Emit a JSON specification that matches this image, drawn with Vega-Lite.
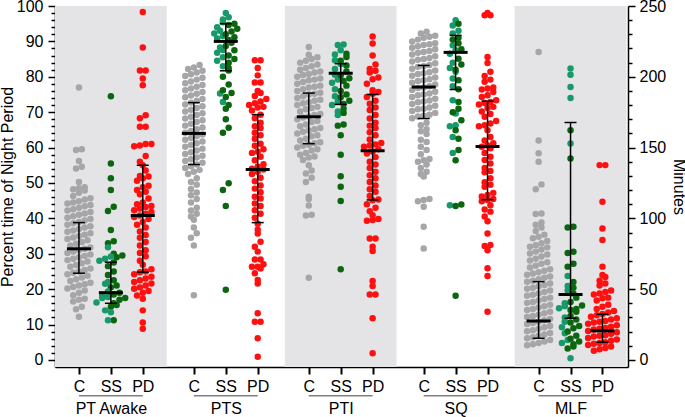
{
"$schema": "https://vega.github.io/schema/vega-lite/v6.json",
"width": 573, "height": 361,
"autosize": {"type": "none"},
"padding": {"left": 55, "top": 6, "right": 57, "bottom": 50},
"config": {"view": {"stroke": null}, "font": "Liberation Sans",
  "axis": {"grid": false, "domainColor": "#000", "domainWidth": 1.5, "tickColor": "#000", "tickWidth": 1.5, "labelColor": "#000", "labelFontSize": 16, "titleFontSize": 16, "titleFontWeight": "normal", "titleColor": "#000", "labelOverlap": false, "labelFlush": false}},
"datasets": {
"grp": [{"g":"PT Awake"},{"g":"PTS"},{"g":"PTI"},{"g":"SQ"},{"g":"MLF"}],
"st": [
{"g":"PT Awake","s":"C","q1":24.5,"med":31.4,"q3":38.8},
{"g":"PT Awake","s":"SS","q1":16.0,"med":19.0,"q3":27.6},
{"g":"PT Awake","s":"PD","q1":24.8,"med":40.8,"q3":55.0},
{"g":"PTS","s":"C","q1":55.2,"med":64.0,"q3":72.7},
{"g":"PTS","s":"SS","q1":81.7,"med":90.0,"q3":95.0},
{"g":"PTS","s":"PD","q1":38.8,"med":53.8,"q3":69.3},
{"g":"PTI","s":"C","q1":61.1,"med":68.7,"q3":75.4},
{"g":"PTI","s":"SS","q1":72.2,"med":81.0,"q3":83.7},
{"g":"PTI","s":"PD","q1":45.2,"med":59.1,"q3":75.0},
{"g":"SQ","s":"C","q1":68.2,"med":77.1,"q3":83.2},
{"g":"SQ","s":"SS","q1":76.4,"med":86.9,"q3":91.7},
{"g":"SQ","s":"PD","q1":45.3,"med":60.3,"q3":73.1},
{"g":"MLF","s":"C","q1":15.3,"med":27.5,"q3":55.3},
{"g":"MLF","s":"SS","q1":29.4,"med":46.3,"q3":167.7},
{"g":"MLF","s":"PD","q1":12.5,"med":20.5,"q3":32.2}
],
"pts": [
{"g":"PT Awake","s":"C","v":77},{"g":"PT Awake","s":"C","v":59.5},{"g":"PT Awake","s":"C","v":59.3},{"g":"PT Awake","s":"C","v":56.2},{"g":"PT Awake","s":"C","v":54.6},{"g":"PT Awake","s":"C","v":54.1},{"g":"PT Awake","s":"C","v":50.3},{"g":"PT Awake","s":"C","v":48.8},{"g":"PT Awake","s":"C","v":48.5},{"g":"PT Awake","s":"C","v":48.2},{"g":"PT Awake","s":"C","v":47.9},{"g":"PT Awake","s":"C","v":47.2},{"g":"PT Awake","s":"C","v":46.3},{"g":"PT Awake","s":"C","v":44.2},{"g":"PT Awake","s":"C","v":44.5},{"g":"PT Awake","s":"C","v":44.8},{"g":"PT Awake","s":"C","v":45.3},{"g":"PT Awake","s":"C","v":45.7},{"g":"PT Awake","s":"C","v":42.2},{"g":"PT Awake","s":"C","v":42.6},{"g":"PT Awake","s":"C","v":43},{"g":"PT Awake","s":"C","v":43.4},{"g":"PT Awake","s":"C","v":43.8},{"g":"PT Awake","s":"C","v":40.2},{"g":"PT Awake","s":"C","v":40.6},{"g":"PT Awake","s":"C","v":41},{"g":"PT Awake","s":"C","v":41.4},{"g":"PT Awake","s":"C","v":41.8},{"g":"PT Awake","s":"C","v":38.2},{"g":"PT Awake","s":"C","v":38.6},{"g":"PT Awake","s":"C","v":39},{"g":"PT Awake","s":"C","v":39.4},{"g":"PT Awake","s":"C","v":39.8},{"g":"PT Awake","s":"C","v":36.2},{"g":"PT Awake","s":"C","v":36.6},{"g":"PT Awake","s":"C","v":37},{"g":"PT Awake","s":"C","v":37.4},{"g":"PT Awake","s":"C","v":37.8},{"g":"PT Awake","s":"C","v":34.2},{"g":"PT Awake","s":"C","v":34.6},{"g":"PT Awake","s":"C","v":35},{"g":"PT Awake","s":"C","v":35.4},{"g":"PT Awake","s":"C","v":35.8},{"g":"PT Awake","s":"C","v":32.3},{"g":"PT Awake","s":"C","v":32.8},{"g":"PT Awake","s":"C","v":33.3},{"g":"PT Awake","s":"C","v":33.8},{"g":"PT Awake","s":"C","v":30.2},{"g":"PT Awake","s":"C","v":30.6},{"g":"PT Awake","s":"C","v":31},{"g":"PT Awake","s":"C","v":31.4},{"g":"PT Awake","s":"C","v":31.8},{"g":"PT Awake","s":"C","v":28.2},{"g":"PT Awake","s":"C","v":28.6},{"g":"PT Awake","s":"C","v":29},{"g":"PT Awake","s":"C","v":29.4},{"g":"PT Awake","s":"C","v":29.8},{"g":"PT Awake","s":"C","v":26.3},{"g":"PT Awake","s":"C","v":26.8},{"g":"PT Awake","s":"C","v":27.3},{"g":"PT Awake","s":"C","v":27.8},{"g":"PT Awake","s":"C","v":24.2},{"g":"PT Awake","s":"C","v":24.6},{"g":"PT Awake","s":"C","v":25},{"g":"PT Awake","s":"C","v":25.4},{"g":"PT Awake","s":"C","v":25.8},{"g":"PT Awake","s":"C","v":22.3},{"g":"PT Awake","s":"C","v":22.8},{"g":"PT Awake","s":"C","v":23.3},{"g":"PT Awake","s":"C","v":23.8},{"g":"PT Awake","s":"C","v":20.2},{"g":"PT Awake","s":"C","v":20.6},{"g":"PT Awake","s":"C","v":21},{"g":"PT Awake","s":"C","v":21.4},{"g":"PT Awake","s":"C","v":21.8},{"g":"PT Awake","s":"C","v":18.3},{"g":"PT Awake","s":"C","v":19},{"g":"PT Awake","s":"C","v":19.6},{"g":"PT Awake","s":"C","v":16.5},{"g":"PT Awake","s":"C","v":17},{"g":"PT Awake","s":"C","v":17.3},{"g":"PT Awake","s":"C","v":14.3},{"g":"PT Awake","s":"C","v":15},{"g":"PT Awake","s":"C","v":12.2},
{"g":"PT Awake","s":"SS","k":"B","v":74.5},{"g":"PT Awake","s":"SS","k":"B","v":55.5},{"g":"PT Awake","s":"SS","k":"B","v":51.3},{"g":"PT Awake","s":"SS","k":"B","v":48},{"g":"PT Awake","s":"SS","k":"B","v":43.3},{"g":"PT Awake","s":"SS","k":"B","v":42.1},{"g":"PT Awake","s":"SS","k":"B","v":36.7},{"g":"PT Awake","s":"SS","k":"B","v":33.5},{"g":"PT Awake","s":"SS","k":"B","v":33},{"g":"PT Awake","s":"SS","k":"B","v":30},{"g":"PT Awake","s":"SS","k":"B","v":29.5},{"g":"PT Awake","s":"SS","k":"B","v":29},{"g":"PT Awake","s":"SS","k":"B","v":27.5},{"g":"PT Awake","s":"SS","k":"B","v":26.5},{"g":"PT Awake","s":"SS","k":"B","v":25},{"g":"PT Awake","s":"SS","k":"B","v":24},{"g":"PT Awake","s":"SS","k":"B","v":22.5},{"g":"PT Awake","s":"SS","k":"B","v":21},{"g":"PT Awake","s":"SS","k":"B","v":20.5},{"g":"PT Awake","s":"SS","k":"B","v":19},{"g":"PT Awake","s":"SS","k":"B","v":18.5},{"g":"PT Awake","s":"SS","k":"B","v":17.5},{"g":"PT Awake","s":"SS","k":"B","v":17},{"g":"PT Awake","s":"SS","k":"B","v":16},{"g":"PT Awake","s":"SS","k":"B","v":15.5},{"g":"PT Awake","s":"SS","k":"B","v":15},{"g":"PT Awake","s":"SS","k":"B","v":11.2},
{"g":"PT Awake","s":"SS","k":"A","v":31.8},{"g":"PT Awake","s":"SS","k":"A","v":29.2},{"g":"PT Awake","s":"SS","k":"A","v":28.6},{"g":"PT Awake","s":"SS","k":"A","v":28},{"g":"PT Awake","s":"SS","k":"A","v":22},{"g":"PT Awake","s":"SS","k":"A","v":21.5},{"g":"PT Awake","s":"SS","k":"A","v":19.3},{"g":"PT Awake","s":"SS","k":"A","v":18.2},{"g":"PT Awake","s":"SS","k":"A","v":17.8},{"g":"PT Awake","s":"SS","k":"A","v":17.5},{"g":"PT Awake","s":"SS","k":"A","v":16.2},{"g":"PT Awake","s":"SS","k":"A","v":14},{"g":"PT Awake","s":"SS","k":"A","v":13.5},{"g":"PT Awake","s":"SS","k":"A","v":11.2},
{"g":"PT Awake","s":"PD","v":98.3},{"g":"PT Awake","s":"PD","v":88.3},{"g":"PT Awake","s":"PD","v":81.8},{"g":"PT Awake","s":"PD","v":81.8},{"g":"PT Awake","s":"PD","v":79.5},{"g":"PT Awake","s":"PD","v":77.6},{"g":"PT Awake","s":"PD","v":69.1},{"g":"PT Awake","s":"PD","v":68.3},{"g":"PT Awake","s":"PD","v":65.9},{"g":"PT Awake","s":"PD","v":65.9},{"g":"PT Awake","s":"PD","v":61},{"g":"PT Awake","s":"PD","v":61},{"g":"PT Awake","s":"PD","v":60.6},{"g":"PT Awake","s":"PD","v":60.4},{"g":"PT Awake","s":"PD","v":57.6},{"g":"PT Awake","s":"PD","v":56},{"g":"PT Awake","s":"PD","v":55},{"g":"PT Awake","s":"PD","v":53.5},{"g":"PT Awake","s":"PD","v":52},{"g":"PT Awake","s":"PD","v":51.8},{"g":"PT Awake","s":"PD","v":51.3},{"g":"PT Awake","s":"PD","v":50.6},{"g":"PT Awake","s":"PD","v":49.2},{"g":"PT Awake","s":"PD","v":48.8},{"g":"PT Awake","s":"PD","v":48},{"g":"PT Awake","s":"PD","v":47.5},{"g":"PT Awake","s":"PD","v":46.8},{"g":"PT Awake","s":"PD","v":45.6},{"g":"PT Awake","s":"PD","v":44.5},{"g":"PT Awake","s":"PD","v":44},{"g":"PT Awake","s":"PD","v":43.5},{"g":"PT Awake","s":"PD","v":43.2},{"g":"PT Awake","s":"PD","v":42.8},{"g":"PT Awake","s":"PD","v":42.3},{"g":"PT Awake","s":"PD","v":41.8},{"g":"PT Awake","s":"PD","v":41.3},{"g":"PT Awake","s":"PD","v":40.8},{"g":"PT Awake","s":"PD","v":40.4},{"g":"PT Awake","s":"PD","v":39.8},{"g":"PT Awake","s":"PD","v":39},{"g":"PT Awake","s":"PD","v":38.2},{"g":"PT Awake","s":"PD","v":37.4},{"g":"PT Awake","s":"PD","v":36.3},{"g":"PT Awake","s":"PD","v":35.3},{"g":"PT Awake","s":"PD","v":34.5},{"g":"PT Awake","s":"PD","v":33.3},{"g":"PT Awake","s":"PD","v":32.3},{"g":"PT Awake","s":"PD","v":31},{"g":"PT Awake","s":"PD","v":30.2},{"g":"PT Awake","s":"PD","v":29.3},{"g":"PT Awake","s":"PD","v":28},{"g":"PT Awake","s":"PD","v":26.9},{"g":"PT Awake","s":"PD","v":25.6},{"g":"PT Awake","s":"PD","v":25},{"g":"PT Awake","s":"PD","v":24.8},{"g":"PT Awake","s":"PD","v":24.2},{"g":"PT Awake","s":"PD","v":23.5},{"g":"PT Awake","s":"PD","v":23},{"g":"PT Awake","s":"PD","v":22.5},{"g":"PT Awake","s":"PD","v":22},{"g":"PT Awake","s":"PD","v":21.6},{"g":"PT Awake","s":"PD","v":21},{"g":"PT Awake","s":"PD","v":20.5},{"g":"PT Awake","s":"PD","v":20.1},{"g":"PT Awake","s":"PD","v":19.5},{"g":"PT Awake","s":"PD","v":19},{"g":"PT Awake","s":"PD","v":18.2},{"g":"PT Awake","s":"PD","v":17.3},{"g":"PT Awake","s":"PD","v":14},{"g":"PT Awake","s":"PD","v":10.6},{"g":"PT Awake","s":"PD","v":8.8},
{"g":"PTS","s":"C","v":83.3},{"g":"PTS","s":"C","v":82.6},{"g":"PTS","s":"C","v":82.2},{"g":"PTS","s":"C","v":81.7},{"g":"PTS","s":"C","v":81.2},{"g":"PTS","s":"C","v":80.7},{"g":"PTS","s":"C","v":80.2},{"g":"PTS","s":"C","v":79.7},{"g":"PTS","s":"C","v":79.2},{"g":"PTS","s":"C","v":78.7},{"g":"PTS","s":"C","v":78.2},{"g":"PTS","s":"C","v":77.7},{"g":"PTS","s":"C","v":77.2},{"g":"PTS","s":"C","v":76.7},{"g":"PTS","s":"C","v":76.2},{"g":"PTS","s":"C","v":75.7},{"g":"PTS","s":"C","v":75.2},{"g":"PTS","s":"C","v":74.7},{"g":"PTS","s":"C","v":74.2},{"g":"PTS","s":"C","v":73.7},{"g":"PTS","s":"C","v":73.2},{"g":"PTS","s":"C","v":72.7},{"g":"PTS","s":"C","v":72.2},{"g":"PTS","s":"C","v":71.7},{"g":"PTS","s":"C","v":71.2},{"g":"PTS","s":"C","v":70.7},{"g":"PTS","s":"C","v":70.2},{"g":"PTS","s":"C","v":69.7},{"g":"PTS","s":"C","v":69.2},{"g":"PTS","s":"C","v":68.7},{"g":"PTS","s":"C","v":68.2},{"g":"PTS","s":"C","v":67.7},{"g":"PTS","s":"C","v":67.2},{"g":"PTS","s":"C","v":66.7},{"g":"PTS","s":"C","v":66.2},{"g":"PTS","s":"C","v":65.7},{"g":"PTS","s":"C","v":65.2},{"g":"PTS","s":"C","v":64.7},{"g":"PTS","s":"C","v":64.2},{"g":"PTS","s":"C","v":63.7},{"g":"PTS","s":"C","v":63.2},{"g":"PTS","s":"C","v":62.7},{"g":"PTS","s":"C","v":62.2},{"g":"PTS","s":"C","v":61.7},{"g":"PTS","s":"C","v":61.2},{"g":"PTS","s":"C","v":60.7},{"g":"PTS","s":"C","v":60.2},{"g":"PTS","s":"C","v":59.7},{"g":"PTS","s":"C","v":59.2},{"g":"PTS","s":"C","v":58.7},{"g":"PTS","s":"C","v":58.2},{"g":"PTS","s":"C","v":57.7},{"g":"PTS","s":"C","v":57.2},{"g":"PTS","s":"C","v":56.7},{"g":"PTS","s":"C","v":56.2},{"g":"PTS","s":"C","v":55.7},{"g":"PTS","s":"C","v":55.2},{"g":"PTS","s":"C","v":54.7},{"g":"PTS","s":"C","v":54.2},{"g":"PTS","s":"C","v":53.7},{"g":"PTS","s":"C","v":53.2},{"g":"PTS","s":"C","v":52.5},{"g":"PTS","s":"C","v":51.3},{"g":"PTS","s":"C","v":50.3},{"g":"PTS","s":"C","v":49.5},{"g":"PTS","s":"C","v":48.3},{"g":"PTS","s":"C","v":47.3},{"g":"PTS","s":"C","v":46.5},{"g":"PTS","s":"C","v":45.5},{"g":"PTS","s":"C","v":44.5},{"g":"PTS","s":"C","v":43},{"g":"PTS","s":"C","v":42.2},{"g":"PTS","s":"C","v":41.3},{"g":"PTS","s":"C","v":40.5},{"g":"PTS","s":"C","v":39.6},{"g":"PTS","s":"C","v":37.4},{"g":"PTS","s":"C","v":35.8},{"g":"PTS","s":"C","v":34.5},{"g":"PTS","s":"C","v":32.3},{"g":"PTS","s":"C","v":18.3},
{"g":"PTS","s":"SS","k":"A","v":98},{"g":"PTS","s":"SS","k":"A","v":96.8},{"g":"PTS","s":"SS","k":"A","v":96.2},{"g":"PTS","s":"SS","k":"A","v":95.4},{"g":"PTS","s":"SS","k":"A","v":94},{"g":"PTS","s":"SS","k":"A","v":93},{"g":"PTS","s":"SS","k":"A","v":92.2},{"g":"PTS","s":"SS","k":"A","v":91.5},{"g":"PTS","s":"SS","k":"A","v":90.8},{"g":"PTS","s":"SS","k":"A","v":88.3},{"g":"PTS","s":"SS","k":"A","v":87.6},{"g":"PTS","s":"SS","k":"A","v":86.8},{"g":"PTS","s":"SS","k":"A","v":85.5},{"g":"PTS","s":"SS","k":"A","v":84.5},{"g":"PTS","s":"SS","k":"A","v":83},{"g":"PTS","s":"SS","k":"A","v":75.3},{"g":"PTS","s":"SS","k":"A","v":72.9},
{"g":"PTS","s":"SS","k":"B","v":95},{"g":"PTS","s":"SS","k":"B","v":94.6},{"g":"PTS","s":"SS","k":"B","v":93.6},{"g":"PTS","s":"SS","k":"B","v":92.8},{"g":"PTS","s":"SS","k":"B","v":92},{"g":"PTS","s":"SS","k":"B","v":91.2},{"g":"PTS","s":"SS","k":"B","v":90.4},{"g":"PTS","s":"SS","k":"B","v":89.6},{"g":"PTS","s":"SS","k":"B","v":88.7},{"g":"PTS","s":"SS","k":"B","v":87.5},{"g":"PTS","s":"SS","k":"B","v":86},{"g":"PTS","s":"SS","k":"B","v":85},{"g":"PTS","s":"SS","k":"B","v":84},{"g":"PTS","s":"SS","k":"B","v":82.5},{"g":"PTS","s":"SS","k":"B","v":81.8},{"g":"PTS","s":"SS","k":"B","v":80},{"g":"PTS","s":"SS","k":"B","v":77.8},{"g":"PTS","s":"SS","k":"B","v":76.2},{"g":"PTS","s":"SS","k":"B","v":75.4},{"g":"PTS","s":"SS","k":"B","v":74.3},{"g":"PTS","s":"SS","k":"B","v":72},{"g":"PTS","s":"SS","k":"B","v":71},{"g":"PTS","s":"SS","k":"B","v":68},{"g":"PTS","s":"SS","k":"B","v":65.6},{"g":"PTS","s":"SS","k":"B","v":64.2},{"g":"PTS","s":"SS","k":"B","v":49.9},{"g":"PTS","s":"SS","k":"B","v":48},{"g":"PTS","s":"SS","k":"B","v":43.5},{"g":"PTS","s":"SS","k":"B","v":19.8},
{"g":"PTS","s":"PD","v":84.7},{"g":"PTS","s":"PD","v":84.7},{"g":"PTS","s":"PD","v":82.5},{"g":"PTS","s":"PD","v":80.4},{"g":"PTS","s":"PD","v":78.4},{"g":"PTS","s":"PD","v":78.4},{"g":"PTS","s":"PD","v":76},{"g":"PTS","s":"PD","v":75.4},{"g":"PTS","s":"PD","v":74.6},{"g":"PTS","s":"PD","v":73.7},{"g":"PTS","s":"PD","v":73},{"g":"PTS","s":"PD","v":72.5},{"g":"PTS","s":"PD","v":72},{"g":"PTS","s":"PD","v":71.5},{"g":"PTS","s":"PD","v":71.3},{"g":"PTS","s":"PD","v":70.5},{"g":"PTS","s":"PD","v":69.3},{"g":"PTS","s":"PD","v":68.3},{"g":"PTS","s":"PD","v":67},{"g":"PTS","s":"PD","v":66},{"g":"PTS","s":"PD","v":65.5},{"g":"PTS","s":"PD","v":64.2},{"g":"PTS","s":"PD","v":63.5},{"g":"PTS","s":"PD","v":62.5},{"g":"PTS","s":"PD","v":61.1},{"g":"PTS","s":"PD","v":60.5},{"g":"PTS","s":"PD","v":59.5},{"g":"PTS","s":"PD","v":58.8},{"g":"PTS","s":"PD","v":58.5},{"g":"PTS","s":"PD","v":57.4},{"g":"PTS","s":"PD","v":56.4},{"g":"PTS","s":"PD","v":55.3},{"g":"PTS","s":"PD","v":54.6},{"g":"PTS","s":"PD","v":54},{"g":"PTS","s":"PD","v":53.8},{"g":"PTS","s":"PD","v":53.2},{"g":"PTS","s":"PD","v":52.5},{"g":"PTS","s":"PD","v":51.5},{"g":"PTS","s":"PD","v":50.5},{"g":"PTS","s":"PD","v":49.3},{"g":"PTS","s":"PD","v":48.4},{"g":"PTS","s":"PD","v":47.4},{"g":"PTS","s":"PD","v":46.1},{"g":"PTS","s":"PD","v":45.6},{"g":"PTS","s":"PD","v":44.2},{"g":"PTS","s":"PD","v":43.5},{"g":"PTS","s":"PD","v":42.3},{"g":"PTS","s":"PD","v":41.3},{"g":"PTS","s":"PD","v":40.2},{"g":"PTS","s":"PD","v":38.5},{"g":"PTS","s":"PD","v":36.8},{"g":"PTS","s":"PD","v":35.7},{"g":"PTS","s":"PD","v":33.4},{"g":"PTS","s":"PD","v":32},{"g":"PTS","s":"PD","v":30.6},{"g":"PTS","s":"PD","v":28.4},{"g":"PTS","s":"PD","v":28.4},{"g":"PTS","s":"PD","v":27},{"g":"PTS","s":"PD","v":26.3},{"g":"PTS","s":"PD","v":26.3},{"g":"PTS","s":"PD","v":25.8},{"g":"PTS","s":"PD","v":24.5},{"g":"PTS","s":"PD","v":22.6},{"g":"PTS","s":"PD","v":21.6},{"g":"PTS","s":"PD","v":13.2},{"g":"PTS","s":"PD","v":10.8},{"g":"PTS","s":"PD","v":10.8},{"g":"PTS","s":"PD","v":6.1},{"g":"PTS","s":"PD","v":0.9},
{"g":"PTI","s":"C","v":88.4},{"g":"PTI","s":"C","v":86.2},{"g":"PTI","s":"C","v":85.5},{"g":"PTI","s":"C","v":85},{"g":"PTI","s":"C","v":84.5},{"g":"PTI","s":"C","v":84},{"g":"PTI","s":"C","v":83.5},{"g":"PTI","s":"C","v":83},{"g":"PTI","s":"C","v":82.5},{"g":"PTI","s":"C","v":82},{"g":"PTI","s":"C","v":81.5},{"g":"PTI","s":"C","v":81.2},{"g":"PTI","s":"C","v":80.8},{"g":"PTI","s":"C","v":80.5},{"g":"PTI","s":"C","v":80},{"g":"PTI","s":"C","v":79.5},{"g":"PTI","s":"C","v":79.2},{"g":"PTI","s":"C","v":79},{"g":"PTI","s":"C","v":78.5},{"g":"PTI","s":"C","v":78},{"g":"PTI","s":"C","v":77.5},{"g":"PTI","s":"C","v":77.2},{"g":"PTI","s":"C","v":77},{"g":"PTI","s":"C","v":76.5},{"g":"PTI","s":"C","v":76},{"g":"PTI","s":"C","v":75.5},{"g":"PTI","s":"C","v":75.2},{"g":"PTI","s":"C","v":75},{"g":"PTI","s":"C","v":74.5},{"g":"PTI","s":"C","v":74},{"g":"PTI","s":"C","v":73.5},{"g":"PTI","s":"C","v":73.2},{"g":"PTI","s":"C","v":72.8},{"g":"PTI","s":"C","v":72.5},{"g":"PTI","s":"C","v":72},{"g":"PTI","s":"C","v":71.5},{"g":"PTI","s":"C","v":71.2},{"g":"PTI","s":"C","v":70.8},{"g":"PTI","s":"C","v":70.2},{"g":"PTI","s":"C","v":69.5},{"g":"PTI","s":"C","v":69.2},{"g":"PTI","s":"C","v":68.8},{"g":"PTI","s":"C","v":68.5},{"g":"PTI","s":"C","v":68},{"g":"PTI","s":"C","v":67.5},{"g":"PTI","s":"C","v":67.2},{"g":"PTI","s":"C","v":66.5},{"g":"PTI","s":"C","v":66},{"g":"PTI","s":"C","v":65.5},{"g":"PTI","s":"C","v":65.2},{"g":"PTI","s":"C","v":64.8},{"g":"PTI","s":"C","v":64.5},{"g":"PTI","s":"C","v":64},{"g":"PTI","s":"C","v":63.5},{"g":"PTI","s":"C","v":63.2},{"g":"PTI","s":"C","v":62.5},{"g":"PTI","s":"C","v":62},{"g":"PTI","s":"C","v":61.5},{"g":"PTI","s":"C","v":61.2},{"g":"PTI","s":"C","v":60.8},{"g":"PTI","s":"C","v":60.5},{"g":"PTI","s":"C","v":60},{"g":"PTI","s":"C","v":59.5},{"g":"PTI","s":"C","v":59.2},{"g":"PTI","s":"C","v":58.5},{"g":"PTI","s":"C","v":58},{"g":"PTI","s":"C","v":57.5},{"g":"PTI","s":"C","v":57.2},{"g":"PTI","s":"C","v":56.5},{"g":"PTI","s":"C","v":55},{"g":"PTI","s":"C","v":53.5},{"g":"PTI","s":"C","v":52.7},{"g":"PTI","s":"C","v":51.5},{"g":"PTI","s":"C","v":50.3},{"g":"PTI","s":"C","v":46.1},{"g":"PTI","s":"C","v":45.5},{"g":"PTI","s":"C","v":43.6},{"g":"PTI","s":"C","v":41},{"g":"PTI","s":"C","v":40.8},{"g":"PTI","s":"C","v":23.2},
{"g":"PTI","s":"SS","k":"A","v":89.1},{"g":"PTI","s":"SS","k":"A","v":89},{"g":"PTI","s":"SS","k":"A","v":87.5},{"g":"PTI","s":"SS","k":"A","v":86.3},{"g":"PTI","s":"SS","k":"A","v":84.7},{"g":"PTI","s":"SS","k":"A","v":83.6},{"g":"PTI","s":"SS","k":"A","v":82.2},{"g":"PTI","s":"SS","k":"A","v":80.6},{"g":"PTI","s":"SS","k":"A","v":79.2},{"g":"PTI","s":"SS","k":"A","v":78.3},{"g":"PTI","s":"SS","k":"A","v":76.5},{"g":"PTI","s":"SS","k":"A","v":74.5},{"g":"PTI","s":"SS","k":"A","v":73},{"g":"PTI","s":"SS","k":"A","v":72},{"g":"PTI","s":"SS","k":"A","v":70.2},{"g":"PTI","s":"SS","k":"A","v":69.2},
{"g":"PTI","s":"SS","k":"B","v":86.5},{"g":"PTI","s":"SS","k":"B","v":85.6},{"g":"PTI","s":"SS","k":"B","v":84.5},{"g":"PTI","s":"SS","k":"B","v":83.2},{"g":"PTI","s":"SS","k":"B","v":81.5},{"g":"PTI","s":"SS","k":"B","v":80.4},{"g":"PTI","s":"SS","k":"B","v":79.6},{"g":"PTI","s":"SS","k":"B","v":78.8},{"g":"PTI","s":"SS","k":"B","v":77.5},{"g":"PTI","s":"SS","k":"B","v":76},{"g":"PTI","s":"SS","k":"B","v":75},{"g":"PTI","s":"SS","k":"B","v":74.2},{"g":"PTI","s":"SS","k":"B","v":73.2},{"g":"PTI","s":"SS","k":"B","v":72.3},{"g":"PTI","s":"SS","k":"B","v":71},{"g":"PTI","s":"SS","k":"B","v":69.8},{"g":"PTI","s":"SS","k":"B","v":66.5},{"g":"PTI","s":"SS","k":"B","v":66.2},{"g":"PTI","s":"SS","k":"B","v":63.5},{"g":"PTI","s":"SS","k":"B","v":58},{"g":"PTI","s":"SS","k":"B","v":51.9},{"g":"PTI","s":"SS","k":"B","v":48.9},{"g":"PTI","s":"SS","k":"B","v":44.9},{"g":"PTI","s":"SS","k":"B","v":25.6},
{"g":"PTI","s":"PD","v":91.4},{"g":"PTI","s":"PD","v":89.4},{"g":"PTI","s":"PD","v":86},{"g":"PTI","s":"PD","v":83.5},{"g":"PTI","s":"PD","v":82.2},{"g":"PTI","s":"PD","v":81.7},{"g":"PTI","s":"PD","v":81.2},{"g":"PTI","s":"PD","v":79.8},{"g":"PTI","s":"PD","v":79.3},{"g":"PTI","s":"PD","v":78},{"g":"PTI","s":"PD","v":76.2},{"g":"PTI","s":"PD","v":75.7},{"g":"PTI","s":"PD","v":75.2},{"g":"PTI","s":"PD","v":74.3},{"g":"PTI","s":"PD","v":73.2},{"g":"PTI","s":"PD","v":72.4},{"g":"PTI","s":"PD","v":71.3},{"g":"PTI","s":"PD","v":70.6},{"g":"PTI","s":"PD","v":69.2},{"g":"PTI","s":"PD","v":68.2},{"g":"PTI","s":"PD","v":67},{"g":"PTI","s":"PD","v":66.2},{"g":"PTI","s":"PD","v":65.5},{"g":"PTI","s":"PD","v":64.3},{"g":"PTI","s":"PD","v":63.5},{"g":"PTI","s":"PD","v":62.3},{"g":"PTI","s":"PD","v":61.3},{"g":"PTI","s":"PD","v":60.9},{"g":"PTI","s":"PD","v":60.6},{"g":"PTI","s":"PD","v":60.2},{"g":"PTI","s":"PD","v":59.5},{"g":"PTI","s":"PD","v":58.9},{"g":"PTI","s":"PD","v":58.3},{"g":"PTI","s":"PD","v":57.3},{"g":"PTI","s":"PD","v":56},{"g":"PTI","s":"PD","v":55.2},{"g":"PTI","s":"PD","v":54.2},{"g":"PTI","s":"PD","v":53.2},{"g":"PTI","s":"PD","v":52.2},{"g":"PTI","s":"PD","v":51.3},{"g":"PTI","s":"PD","v":50.3},{"g":"PTI","s":"PD","v":49.3},{"g":"PTI","s":"PD","v":48.2},{"g":"PTI","s":"PD","v":47.5},{"g":"PTI","s":"PD","v":46.3},{"g":"PTI","s":"PD","v":45.3},{"g":"PTI","s":"PD","v":45.1},{"g":"PTI","s":"PD","v":44},{"g":"PTI","s":"PD","v":43},{"g":"PTI","s":"PD","v":42},{"g":"PTI","s":"PD","v":40.9},{"g":"PTI","s":"PD","v":39.8},{"g":"PTI","s":"PD","v":39.5},{"g":"PTI","s":"PD","v":39.3},{"g":"PTI","s":"PD","v":34.3},{"g":"PTI","s":"PD","v":34.3},{"g":"PTI","s":"PD","v":32},{"g":"PTI","s":"PD","v":30.8},{"g":"PTI","s":"PD","v":22.3},{"g":"PTI","s":"PD","v":20.9},{"g":"PTI","s":"PD","v":18.5},{"g":"PTI","s":"PD","v":18.5},{"g":"PTI","s":"PD","v":11.8},{"g":"PTI","s":"PD","v":1.9},
{"g":"SQ","s":"C","v":92.7},{"g":"SQ","s":"C","v":92.2},{"g":"SQ","s":"C","v":91.6},{"g":"SQ","s":"C","v":91.3},{"g":"SQ","s":"C","v":91},{"g":"SQ","s":"C","v":90.5},{"g":"SQ","s":"C","v":90},{"g":"SQ","s":"C","v":89.5},{"g":"SQ","s":"C","v":89.2},{"g":"SQ","s":"C","v":89},{"g":"SQ","s":"C","v":88.6},{"g":"SQ","s":"C","v":88.2},{"g":"SQ","s":"C","v":87.8},{"g":"SQ","s":"C","v":87.3},{"g":"SQ","s":"C","v":87},{"g":"SQ","s":"C","v":86.8},{"g":"SQ","s":"C","v":86.3},{"g":"SQ","s":"C","v":85.8},{"g":"SQ","s":"C","v":85.3},{"g":"SQ","s":"C","v":85},{"g":"SQ","s":"C","v":84.8},{"g":"SQ","s":"C","v":84.3},{"g":"SQ","s":"C","v":83.8},{"g":"SQ","s":"C","v":83.3},{"g":"SQ","s":"C","v":83},{"g":"SQ","s":"C","v":82.8},{"g":"SQ","s":"C","v":82.3},{"g":"SQ","s":"C","v":81.8},{"g":"SQ","s":"C","v":81.3},{"g":"SQ","s":"C","v":81},{"g":"SQ","s":"C","v":80.8},{"g":"SQ","s":"C","v":80.3},{"g":"SQ","s":"C","v":79.8},{"g":"SQ","s":"C","v":79.3},{"g":"SQ","s":"C","v":79},{"g":"SQ","s":"C","v":78.8},{"g":"SQ","s":"C","v":78.3},{"g":"SQ","s":"C","v":77.8},{"g":"SQ","s":"C","v":77.3},{"g":"SQ","s":"C","v":77},{"g":"SQ","s":"C","v":76.8},{"g":"SQ","s":"C","v":76.3},{"g":"SQ","s":"C","v":75.8},{"g":"SQ","s":"C","v":75.3},{"g":"SQ","s":"C","v":75},{"g":"SQ","s":"C","v":74.8},{"g":"SQ","s":"C","v":74.3},{"g":"SQ","s":"C","v":73.8},{"g":"SQ","s":"C","v":73.3},{"g":"SQ","s":"C","v":73},{"g":"SQ","s":"C","v":72.8},{"g":"SQ","s":"C","v":72.3},{"g":"SQ","s":"C","v":71.8},{"g":"SQ","s":"C","v":71.3},{"g":"SQ","s":"C","v":71},{"g":"SQ","s":"C","v":70.8},{"g":"SQ","s":"C","v":70.3},{"g":"SQ","s":"C","v":69.8},{"g":"SQ","s":"C","v":69.3},{"g":"SQ","s":"C","v":69},{"g":"SQ","s":"C","v":68.8},{"g":"SQ","s":"C","v":68.3},{"g":"SQ","s":"C","v":67},{"g":"SQ","s":"C","v":66.3},{"g":"SQ","s":"C","v":65.2},{"g":"SQ","s":"C","v":64.6},{"g":"SQ","s":"C","v":63.8},{"g":"SQ","s":"C","v":62.2},{"g":"SQ","s":"C","v":61.6},{"g":"SQ","s":"C","v":60.2},{"g":"SQ","s":"C","v":59.3},{"g":"SQ","s":"C","v":58.1},{"g":"SQ","s":"C","v":56.8},{"g":"SQ","s":"C","v":56.4},{"g":"SQ","s":"C","v":56},{"g":"SQ","s":"C","v":55.2},{"g":"SQ","s":"C","v":54.2},{"g":"SQ","s":"C","v":53.2},{"g":"SQ","s":"C","v":52.5},{"g":"SQ","s":"C","v":51.8},{"g":"SQ","s":"C","v":45.5},{"g":"SQ","s":"C","v":45.2},{"g":"SQ","s":"C","v":44.8},{"g":"SQ","s":"C","v":43.3},{"g":"SQ","s":"C","v":37.6},{"g":"SQ","s":"C","v":31.5},
{"g":"SQ","s":"SS","k":"A","v":96},{"g":"SQ","s":"SS","k":"A","v":94.5},{"g":"SQ","s":"SS","k":"A","v":93},{"g":"SQ","s":"SS","k":"A","v":92.2},{"g":"SQ","s":"SS","k":"A","v":88.9},{"g":"SQ","s":"SS","k":"A","v":87.5},{"g":"SQ","s":"SS","k":"A","v":86.5},{"g":"SQ","s":"SS","k":"A","v":84},{"g":"SQ","s":"SS","k":"A","v":82.5},{"g":"SQ","s":"SS","k":"A","v":81.4},{"g":"SQ","s":"SS","k":"A","v":79.5},{"g":"SQ","s":"SS","k":"A","v":77.3},{"g":"SQ","s":"SS","k":"A","v":73.4},{"g":"SQ","s":"SS","k":"A","v":69.6},{"g":"SQ","s":"SS","k":"A","v":66.3},{"g":"SQ","s":"SS","k":"A","v":66},{"g":"SQ","s":"SS","k":"A","v":63},{"g":"SQ","s":"SS","k":"A","v":58.5},{"g":"SQ","s":"SS","k":"A","v":43.7},
{"g":"SQ","s":"SS","k":"B","v":95},{"g":"SQ","s":"SS","k":"B","v":91},{"g":"SQ","s":"SS","k":"B","v":90.5},{"g":"SQ","s":"SS","k":"B","v":89.5},{"g":"SQ","s":"SS","k":"B","v":87.8},{"g":"SQ","s":"SS","k":"B","v":85.1},{"g":"SQ","s":"SS","k":"B","v":83.5},{"g":"SQ","s":"SS","k":"B","v":82},{"g":"SQ","s":"SS","k":"B","v":79},{"g":"SQ","s":"SS","k":"B","v":76.5},{"g":"SQ","s":"SS","k":"B","v":72.9},{"g":"SQ","s":"SS","k":"B","v":71},{"g":"SQ","s":"SS","k":"B","v":70},{"g":"SQ","s":"SS","k":"B","v":67.7},{"g":"SQ","s":"SS","k":"B","v":64.9},{"g":"SQ","s":"SS","k":"B","v":62.5},{"g":"SQ","s":"SS","k":"B","v":59.3},{"g":"SQ","s":"SS","k":"B","v":56.4},{"g":"SQ","s":"SS","k":"B","v":43.9},{"g":"SQ","s":"SS","k":"B","v":43.5},{"g":"SQ","s":"SS","k":"B","v":18.1},
{"g":"SQ","s":"PD","v":98},{"g":"SQ","s":"PD","v":97.4},{"g":"SQ","s":"PD","v":97.4},{"g":"SQ","s":"PD","v":85.6},{"g":"SQ","s":"PD","v":83.9},{"g":"SQ","s":"PD","v":81.4},{"g":"SQ","s":"PD","v":80.2},{"g":"SQ","s":"PD","v":79.2},{"g":"SQ","s":"PD","v":78.6},{"g":"SQ","s":"PD","v":77},{"g":"SQ","s":"PD","v":76.7},{"g":"SQ","s":"PD","v":76.4},{"g":"SQ","s":"PD","v":75.7},{"g":"SQ","s":"PD","v":74.8},{"g":"SQ","s":"PD","v":74.3},{"g":"SQ","s":"PD","v":73.4},{"g":"SQ","s":"PD","v":72.9},{"g":"SQ","s":"PD","v":72.6},{"g":"SQ","s":"PD","v":72.2},{"g":"SQ","s":"PD","v":71.5},{"g":"SQ","s":"PD","v":71.2},{"g":"SQ","s":"PD","v":70.2},{"g":"SQ","s":"PD","v":69.5},{"g":"SQ","s":"PD","v":68.7},{"g":"SQ","s":"PD","v":67.5},{"g":"SQ","s":"PD","v":66.8},{"g":"SQ","s":"PD","v":66.3},{"g":"SQ","s":"PD","v":66},{"g":"SQ","s":"PD","v":64.9},{"g":"SQ","s":"PD","v":63},{"g":"SQ","s":"PD","v":62},{"g":"SQ","s":"PD","v":61.2},{"g":"SQ","s":"PD","v":60.6},{"g":"SQ","s":"PD","v":60.2},{"g":"SQ","s":"PD","v":59.8},{"g":"SQ","s":"PD","v":58.5},{"g":"SQ","s":"PD","v":57.4},{"g":"SQ","s":"PD","v":56.5},{"g":"SQ","s":"PD","v":55.5},{"g":"SQ","s":"PD","v":54.2},{"g":"SQ","s":"PD","v":53.4},{"g":"SQ","s":"PD","v":53},{"g":"SQ","s":"PD","v":51.3},{"g":"SQ","s":"PD","v":50.2},{"g":"SQ","s":"PD","v":49.5},{"g":"SQ","s":"PD","v":48.9},{"g":"SQ","s":"PD","v":47.2},{"g":"SQ","s":"PD","v":46.6},{"g":"SQ","s":"PD","v":46.2},{"g":"SQ","s":"PD","v":45.5},{"g":"SQ","s":"PD","v":45.2},{"g":"SQ","s":"PD","v":44.8},{"g":"SQ","s":"PD","v":43.7},{"g":"SQ","s":"PD","v":42.5},{"g":"SQ","s":"PD","v":41.9},{"g":"SQ","s":"PD","v":40.5},{"g":"SQ","s":"PD","v":39.2},{"g":"SQ","s":"PD","v":35.7},{"g":"SQ","s":"PD","v":32.5},{"g":"SQ","s":"PD","v":32.2},{"g":"SQ","s":"PD","v":31},{"g":"SQ","s":"PD","v":25.9},{"g":"SQ","s":"PD","v":23.7},{"g":"SQ","s":"PD","v":13.6},
{"g":"MLF","s":"C","v":217.5},{"g":"MLF","s":"C","v":155},{"g":"MLF","s":"C","v":146},{"g":"MLF","s":"C","v":140},{"g":"MLF","s":"C","v":124},{"g":"MLF","s":"C","v":120.6},{"g":"MLF","s":"C","v":103.5},{"g":"MLF","s":"C","v":103},{"g":"MLF","s":"C","v":97},{"g":"MLF","s":"C","v":95.5},{"g":"MLF","s":"C","v":93.5},{"g":"MLF","s":"C","v":91},{"g":"MLF","s":"C","v":88.5},{"g":"MLF","s":"C","v":87},{"g":"MLF","s":"C","v":86},{"g":"MLF","s":"C","v":84},{"g":"MLF","s":"C","v":82.5},{"g":"MLF","s":"C","v":81},{"g":"MLF","s":"C","v":80},{"g":"MLF","s":"C","v":79.5},{"g":"MLF","s":"C","v":78},{"g":"MLF","s":"C","v":76.5},{"g":"MLF","s":"C","v":75.2},{"g":"MLF","s":"C","v":74.5},{"g":"MLF","s":"C","v":73},{"g":"MLF","s":"C","v":71.5},{"g":"MLF","s":"C","v":70.3},{"g":"MLF","s":"C","v":69},{"g":"MLF","s":"C","v":68},{"g":"MLF","s":"C","v":66.5},{"g":"MLF","s":"C","v":65.3},{"g":"MLF","s":"C","v":64},{"g":"MLF","s":"C","v":63},{"g":"MLF","s":"C","v":62},{"g":"MLF","s":"C","v":61},{"g":"MLF","s":"C","v":60.2},{"g":"MLF","s":"C","v":59},{"g":"MLF","s":"C","v":58},{"g":"MLF","s":"C","v":57},{"g":"MLF","s":"C","v":56},{"g":"MLF","s":"C","v":55.2},{"g":"MLF","s":"C","v":54},{"g":"MLF","s":"C","v":53},{"g":"MLF","s":"C","v":52},{"g":"MLF","s":"C","v":51},{"g":"MLF","s":"C","v":50.3},{"g":"MLF","s":"C","v":49},{"g":"MLF","s":"C","v":48},{"g":"MLF","s":"C","v":47},{"g":"MLF","s":"C","v":46},{"g":"MLF","s":"C","v":45.3},{"g":"MLF","s":"C","v":44},{"g":"MLF","s":"C","v":43},{"g":"MLF","s":"C","v":42},{"g":"MLF","s":"C","v":41},{"g":"MLF","s":"C","v":40.3},{"g":"MLF","s":"C","v":39},{"g":"MLF","s":"C","v":38},{"g":"MLF","s":"C","v":37},{"g":"MLF","s":"C","v":36},{"g":"MLF","s":"C","v":35.3},{"g":"MLF","s":"C","v":34},{"g":"MLF","s":"C","v":33},{"g":"MLF","s":"C","v":32},{"g":"MLF","s":"C","v":31},{"g":"MLF","s":"C","v":30.3},{"g":"MLF","s":"C","v":29},{"g":"MLF","s":"C","v":28},{"g":"MLF","s":"C","v":27},{"g":"MLF","s":"C","v":26},{"g":"MLF","s":"C","v":25.3},{"g":"MLF","s":"C","v":24},{"g":"MLF","s":"C","v":23},{"g":"MLF","s":"C","v":22},{"g":"MLF","s":"C","v":21},{"g":"MLF","s":"C","v":20.3},{"g":"MLF","s":"C","v":19},{"g":"MLF","s":"C","v":18},{"g":"MLF","s":"C","v":17},{"g":"MLF","s":"C","v":16},{"g":"MLF","s":"C","v":15.3},{"g":"MLF","s":"C","v":14},{"g":"MLF","s":"C","v":13},{"g":"MLF","s":"C","v":12},{"g":"MLF","s":"C","v":11},{"g":"MLF","s":"C","v":10.3},
{"g":"MLF","s":"SS","k":"A","v":205.8},{"g":"MLF","s":"SS","k":"A","v":201.5},{"g":"MLF","s":"SS","k":"A","v":192.8},{"g":"MLF","s":"SS","k":"A","v":185},{"g":"MLF","s":"SS","k":"A","v":152.9},{"g":"MLF","s":"SS","k":"A","v":59.3},{"g":"MLF","s":"SS","k":"A","v":52.2},{"g":"MLF","s":"SS","k":"A","v":49},{"g":"MLF","s":"SS","k":"A","v":40},{"g":"MLF","s":"SS","k":"A","v":38},{"g":"MLF","s":"SS","k":"A","v":36.5},{"g":"MLF","s":"SS","k":"A","v":30},{"g":"MLF","s":"SS","k":"A","v":27},{"g":"MLF","s":"SS","k":"A","v":23},{"g":"MLF","s":"SS","k":"A","v":18.8},{"g":"MLF","s":"SS","k":"A","v":14},{"g":"MLF","s":"SS","k":"A","v":12},{"g":"MLF","s":"SS","k":"A","v":1.2},
{"g":"MLF","s":"SS","k":"B","v":162.3},{"g":"MLF","s":"SS","k":"B","v":142.3},{"g":"MLF","s":"SS","k":"B","v":94},{"g":"MLF","s":"SS","k":"B","v":93.5},{"g":"MLF","s":"SS","k":"B","v":76.4},{"g":"MLF","s":"SS","k":"B","v":75.5},{"g":"MLF","s":"SS","k":"B","v":68},{"g":"MLF","s":"SS","k":"B","v":65.9},{"g":"MLF","s":"SS","k":"B","v":55},{"g":"MLF","s":"SS","k":"B","v":51},{"g":"MLF","s":"SS","k":"B","v":47},{"g":"MLF","s":"SS","k":"B","v":44},{"g":"MLF","s":"SS","k":"B","v":41},{"g":"MLF","s":"SS","k":"B","v":38.5},{"g":"MLF","s":"SS","k":"B","v":36},{"g":"MLF","s":"SS","k":"B","v":35.3},{"g":"MLF","s":"SS","k":"B","v":34},{"g":"MLF","s":"SS","k":"B","v":31},{"g":"MLF","s":"SS","k":"B","v":28.5},{"g":"MLF","s":"SS","k":"B","v":26.5},{"g":"MLF","s":"SS","k":"B","v":24},{"g":"MLF","s":"SS","k":"B","v":22.3},{"g":"MLF","s":"SS","k":"B","v":20},{"g":"MLF","s":"SS","k":"B","v":17},{"g":"MLF","s":"SS","k":"B","v":15},{"g":"MLF","s":"SS","k":"B","v":13},{"g":"MLF","s":"SS","k":"B","v":11},{"g":"MLF","s":"SS","k":"B","v":9.4},{"g":"MLF","s":"SS","k":"B","v":8},
{"g":"MLF","s":"PD","v":137.6},{"g":"MLF","s":"PD","v":137.6},{"g":"MLF","s":"PD","v":111.7},{"g":"MLF","s":"PD","v":92.9},{"g":"MLF","s":"PD","v":84.7},{"g":"MLF","s":"PD","v":65.9},{"g":"MLF","s":"PD","v":60},{"g":"MLF","s":"PD","v":58.5},{"g":"MLF","s":"PD","v":56},{"g":"MLF","s":"PD","v":54},{"g":"MLF","s":"PD","v":52.5},{"g":"MLF","s":"PD","v":49},{"g":"MLF","s":"PD","v":48},{"g":"MLF","s":"PD","v":47},{"g":"MLF","s":"PD","v":46.2},{"g":"MLF","s":"PD","v":44},{"g":"MLF","s":"PD","v":43.5},{"g":"MLF","s":"PD","v":42},{"g":"MLF","s":"PD","v":39},{"g":"MLF","s":"PD","v":37.5},{"g":"MLF","s":"PD","v":36},{"g":"MLF","s":"PD","v":34.5},{"g":"MLF","s":"PD","v":33.5},{"g":"MLF","s":"PD","v":32.5},{"g":"MLF","s":"PD","v":31.5},{"g":"MLF","s":"PD","v":30.5},{"g":"MLF","s":"PD","v":29.5},{"g":"MLF","s":"PD","v":28.5},{"g":"MLF","s":"PD","v":27.5},{"g":"MLF","s":"PD","v":27},{"g":"MLF","s":"PD","v":26.5},{"g":"MLF","s":"PD","v":25.5},{"g":"MLF","s":"PD","v":24.5},{"g":"MLF","s":"PD","v":23.5},{"g":"MLF","s":"PD","v":22.5},{"g":"MLF","s":"PD","v":22},{"g":"MLF","s":"PD","v":21.5},{"g":"MLF","s":"PD","v":20.5},{"g":"MLF","s":"PD","v":19.5},{"g":"MLF","s":"PD","v":18.5},{"g":"MLF","s":"PD","v":17.5},{"g":"MLF","s":"PD","v":17},{"g":"MLF","s":"PD","v":16.5},{"g":"MLF","s":"PD","v":15.5},{"g":"MLF","s":"PD","v":14.5},{"g":"MLF","s":"PD","v":13.5},{"g":"MLF","s":"PD","v":12.5},{"g":"MLF","s":"PD","v":12},{"g":"MLF","s":"PD","v":11.5},{"g":"MLF","s":"PD","v":10.5},{"g":"MLF","s":"PD","v":9.5},{"g":"MLF","s":"PD","v":8.5},{"g":"MLF","s":"PD","v":7.5},{"g":"MLF","s":"PD","v":6.5}
]
},
"layer": [
{
"layer": [
{
"data": {"name": "pts"},
"transform": [
 {"filter": "datum.g !== 'MLF'"},
 {"calculate": "indexof(['PT Awake','PTS','PTI','SQ','MLF'], datum.g)*3.6 + indexof(['C','SS','PD'], datum.s)", "as": "xp"}
],
"mark": {"type": "circle", "size": 0, "opacity": 0},
"encoding": {
 "x": {"field": "xp", "type": "quantitative", "scale": {"domain": [-0.75, 17.2], "nice": false, "zero": false},
   "axis": {"title": null, "orient": "bottom", "values": [0,1,2,3.6,4.6,5.6,7.2,8.2,9.2,10.8,11.8,12.8,14.4,15.4,16.4], "tickCount": 100,
     "labelExpr": "indexof([0,3.6,7.2,10.8,14.4], datum.value) >= 0 ? 'C' : (indexof([2,5.6,9.2,12.8,16.4], datum.value) >= 0 ? 'PD' : ['SS', ['PT Awake','PTS','PTI','SQ','MLF'][round((datum.value - 1)/3.6)]])",
     "tickSize": 7, "tickWidth": 2, "labelPadding": 4, "labelLineHeight": 22, "labelBound": false, "labelOverlap": false}},
 "y": {"field": "v", "type": "quantitative", "scale": {"domain": [-2, 100], "nice": false, "zero": false},
   "axis": {"title": "Percent time of Night Period", "orient": "left", "tickCount": 200,
     "values": [0,2,4,6,8,10,12,14,16,18,20,22,24,26,28,30,32,34,36,38,40,42,44,46,48,50,52,54,56,58,60,62,64,66,68,70,72,74,76,78,80,82,84,86,88,90,92,94,96,98,100],
     "labelExpr": "datum.value % 10 === 0 ? format(datum.value, 'd') : ''",
     "tickSize": {"condition": {"test": "datum.value % 10 === 0", "value": 7}, "value": 4},
     "labelOverlap": false, "labelPadding": 5, "titlePadding": 1}}
}
},
{
"data": {"name": "grp"},
"transform": [
 {"calculate": "indexof(['PT Awake','PTS','PTI','SQ','MLF'], datum.g)", "as": "gi"},
 {"filter": "datum.gi % 2 === 0"},
 {"calculate": "datum.gi*3.6 - 0.75", "as": "xp"},
 {"calculate": "datum.gi*3.6 + 2.75", "as": "x1"}
],
"mark": {"type": "rect", "color": "#e4e4e6"},
"encoding": {
 "x": {"field": "xp", "type": "quantitative"},
 "x2": {"field": "x1"}
}
},
{
"data": {"name": "grp"},
"transform": [
 {"calculate": "indexof(['PT Awake','PTS','PTI','SQ','MLF'], datum.g)", "as": "gi"},
 {"calculate": "datum.gi*3.6", "as": "xp"},
 {"calculate": "datum.gi*3.6 + 2", "as": "u1"}
],
"mark": {"type": "rule", "color": "#808080", "strokeWidth": 1.5, "clip": false},
"encoding": {
 "x": {"field": "xp", "type": "quantitative"},
 "x2": {"field": "u1"},
 "y": {"datum": -10.1, "type": "quantitative"}
}
},
{
"data": {"name": "pts"},
"transform": [
 {"filter": "datum.g !== 'MLF'"},
 {"calculate": "indexof(['PT Awake','PTS','PTI','SQ','MLF'], datum.g)", "as": "gi"},
 {"calculate": "indexof(['C','SS','PD'], datum.s)", "as": "si"},
 {"calculate": "floor(datum.v / 2)", "as": "b"},
 {"calculate": "datum.k ? 'SS-' + datum.k : datum.s", "as": "ck"},
 {"window": [{"op": "row_number", "as": "r"}], "groupby": ["g", "s", "b"], "sort": [{"field": "ck"}, {"field": "v"}]},
 {"joinaggregate": [{"op": "count", "as": "n"}], "groupby": ["g", "s", "b"]},
 {"calculate": "datum.gi*3.6 + datum.si + (datum.r - 1 - (datum.n - 1)/2)*0.18", "as": "xp"}
],
"mark": {"type": "circle", "size": 42, "opacity": 1},
"encoding": {
 "x": {"field": "xp", "type": "quantitative"},
 "y": {"field": "v", "type": "quantitative"},
 "color": {"field": "ck", "type": "nominal", "scale": {"domain": ["C", "SS-A", "SS-B", "PD"], "range": ["#a6a6a9", "#17996a", "#0b660f", "#ff1010"]}, "legend": null}
}
},
{
"data": {"name": "st"},
"transform": [
 {"filter": "datum.g !== 'MLF'"},
 {"calculate": "indexof(['PT Awake','PTS','PTI','SQ','MLF'], datum.g)*3.6 + indexof(['C','SS','PD'], datum.s)", "as": "xp"},
 {"calculate": "datum.q1", "as": "v"},
 {"calculate": "datum.q3", "as": "v2"}
],
"layer": [
 {"mark": {"type": "rule", "color": "#000", "strokeWidth": 1.5},
  "encoding": {"x": {"field": "xp", "type": "quantitative"}, "y": {"field": "v", "type": "quantitative"}, "y2": {"field": "v2"}}},
 {"mark": {"type": "tick", "orient": "horizontal", "color": "#000", "size": 12, "thickness": 1.5, "opacity": 1},
  "encoding": {"x": {"field": "xp", "type": "quantitative"}, "y": {"field": "v", "type": "quantitative"}}},
 {"mark": {"type": "tick", "orient": "horizontal", "color": "#000", "size": 12, "thickness": 1.5, "opacity": 1},
  "encoding": {"x": {"field": "xp", "type": "quantitative"}, "y": {"field": "v2", "type": "quantitative"}}},
 {"mark": {"type": "tick", "orient": "horizontal", "color": "#000", "size": 24, "thickness": 3, "opacity": 1},
  "encoding": {"x": {"field": "xp", "type": "quantitative"}, "y": {"field": "med", "type": "quantitative"}}}
]
}
]
},
{
"layer": [
{
"data": {"name": "pts"},
"transform": [
 {"filter": "datum.g === 'MLF'"},
 {"calculate": "indexof(['PT Awake','PTS','PTI','SQ','MLF'], datum.g)", "as": "gi"},
 {"calculate": "indexof(['C','SS','PD'], datum.s)", "as": "si"},
 {"calculate": "floor(datum.v / 5)", "as": "b"},
 {"calculate": "datum.k ? 'SS-' + datum.k : datum.s", "as": "ck"},
 {"window": [{"op": "row_number", "as": "r"}], "groupby": ["g", "s", "b"], "sort": [{"field": "ck"}, {"field": "v"}]},
 {"joinaggregate": [{"op": "count", "as": "n"}], "groupby": ["g", "s", "b"]},
 {"calculate": "datum.gi*3.6 + datum.si + (datum.r - 1 - (datum.n - 1)/2)*0.18", "as": "xp"}
],
"mark": {"type": "circle", "size": 42, "opacity": 1},
"encoding": {
 "x": {"field": "xp", "type": "quantitative"},
 "y": {"field": "v", "type": "quantitative", "scale": {"domain": [-5, 250], "nice": false, "zero": false},
   "axis": {"title": "Minutes", "orient": "right", "tickCount": 200,
     "values": [0,10,20,30,40,50,60,70,80,90,100,110,120,130,140,150,160,170,180,190,200,210,220,230,240,250],
     "labelExpr": "datum.value % 50 === 0 ? format(datum.value, 'd') : ''",
     "tickSize": {"condition": {"test": "datum.value % 50 === 0", "value": 7}, "value": 4},
     "labelOverlap": false, "labelPadding": 4, "titlePadding": 5}},
 "color": {"field": "ck", "type": "nominal", "legend": null}
}
},
{
"data": {"name": "st"},
"transform": [
 {"filter": "datum.g === 'MLF'"},
 {"calculate": "indexof(['PT Awake','PTS','PTI','SQ','MLF'], datum.g)*3.6 + indexof(['C','SS','PD'], datum.s)", "as": "xp"},
 {"calculate": "datum.q1", "as": "v"},
 {"calculate": "datum.q3", "as": "v2"}
],
"layer": [
 {"mark": {"type": "rule", "color": "#000", "strokeWidth": 1.5},
  "encoding": {"x": {"field": "xp", "type": "quantitative"}, "y": {"field": "v", "type": "quantitative"}, "y2": {"field": "v2"}}},
 {"mark": {"type": "tick", "orient": "horizontal", "color": "#000", "size": 12, "thickness": 1.5, "opacity": 1},
  "encoding": {"x": {"field": "xp", "type": "quantitative"}, "y": {"field": "v", "type": "quantitative"}}},
 {"mark": {"type": "tick", "orient": "horizontal", "color": "#000", "size": 12, "thickness": 1.5, "opacity": 1},
  "encoding": {"x": {"field": "xp", "type": "quantitative"}, "y": {"field": "v2", "type": "quantitative"}}},
 {"mark": {"type": "tick", "orient": "horizontal", "color": "#000", "size": 24, "thickness": 3, "opacity": 1},
  "encoding": {"x": {"field": "xp", "type": "quantitative"}, "y": {"field": "med", "type": "quantitative"}}}
]
}
]
}
],
"resolve": {"scale": {"y": "independent"}}
}
